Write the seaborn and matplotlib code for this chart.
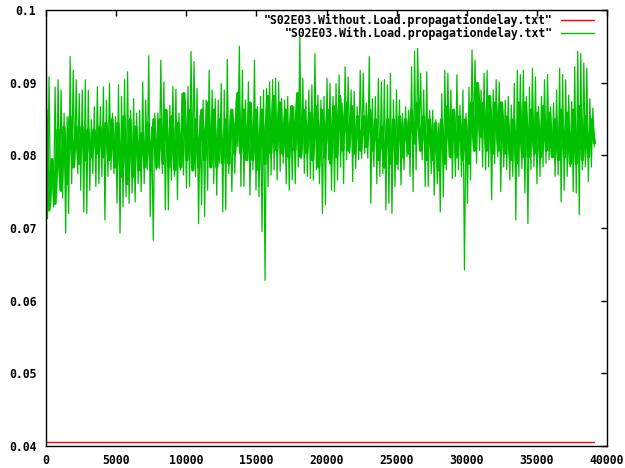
import numpy as np
import pandas as pd
import matplotlib
matplotlib.use("Agg")
import matplotlib.pyplot as plt
import seaborn as sns

# ---- data ----
# upper / lower extremes of the "With Load" trace, one pair per ~3 px column
with_load_high = [
    0.0993,0.0908,0.0794,0.0894,0.0904,0.0890,0.0858,0.0853,0.0936,0.0917,0.0904,0.0885,0.0890,0.0904,0.0890,0.0849,
    0.0867,0.0894,0.0867,0.0894,0.0876,0.0899,0.0858,0.0853,0.0897,0.0881,0.0904,0.0915,0.0862,0.0878,0.0858,
    0.0862,0.0901,0.0876,0.0937,0.0839,0.0858,0.0858,0.0931,0.0901,0.0862,0.0869,0.0895,0.0891,0.0858,0.0885,0.0867,
    0.0895,0.0943,0.0929,0.0892,0.0855,0.0876,0.0876,0.0917,0.0890,0.0878,0.0876,0.0899,0.0890,0.0932,0.0855,0.0849,
    0.0876,0.0950,0.0917,0.0876,0.0901,0.0872,0.0931,0.0867,0.0881,0.0890,0.0892,0.0901,0.0904,0.0906,0.0901,0.0878,
    0.0876,0.0881,0.0867,0.0867,0.0878,0.0963,0.0906,0.0876,0.0890,0.0897,0.0940,0.0883,0.0876,0.0881,0.0906,
    0.0899,0.0881,0.0899,0.0911,0.0872,0.0922,0.0908,0.0890,0.0888,0.0867,0.0917,0.0913,0.0872,0.0936,0.0878,0.0881,
    0.0906,0.0901,0.0904,0.0897,0.0913,0.0876,0.0890,0.0876,0.0858,0.0867,0.0862,0.0922,0.0943,0.0947,0.0913,
    0.0890,0.0915,0.0862,0.0862,0.0849,0.0844,0.0885,0.0917,0.0913,0.0890,0.0858,0.0911,0.0869,0.0890,0.0858,0.0894,
    0.0945,0.0931,0.0885,0.0890,0.0913,0.0917,0.0872,0.0890,0.0904,0.0901,0.0867,0.0876,0.0881,0.0869,0.0899,
    0.0917,0.0911,0.0917,0.0881,0.0894,0.0920,0.0908,0.0867,0.0881,0.0904,0.0911,0.0867,0.0872,0.0890,0.0920,0.0911,
    0.0904,0.0883,0.0874,0.0922,0.0943,0.0940,0.0927,0.0920,0.0878,0.0865,
]
with_load_low = [
    0.0713,0.0729,0.0729,0.0743,0.0761,0.0741,0.0693,0.0720,0.0761,0.0784,0.0775,0.0752,0.0722,0.0720,0.0752,0.0775,
    0.0757,0.0761,0.0771,0.0711,0.0771,0.0780,0.0775,0.0734,0.0693,0.0729,0.0743,0.0734,0.0748,0.0736,0.0761,
    0.0750,0.0761,0.0780,0.0716,0.0683,0.0780,0.0782,0.0775,0.0725,0.0725,0.0766,0.0771,0.0739,0.0780,0.0773,0.0755,
    0.0757,0.0789,0.0771,0.0706,0.0732,0.0716,0.0752,0.0784,0.0761,0.0745,0.0789,0.0722,0.0725,0.0775,0.0750,0.0775,
    0.0812,0.0757,0.0757,0.0794,0.0745,0.0780,0.0752,0.0743,0.0695,0.0628,0.0757,0.0773,0.0780,0.0766,0.0778,0.0789,
    0.0761,0.0752,0.0766,0.0761,0.0784,0.0796,0.0775,0.0771,0.0768,0.0766,0.0780,0.0761,0.0720,0.0732,0.0794,
    0.0752,0.0750,0.0766,0.0784,0.0761,0.0794,0.0803,0.0764,0.0782,0.0794,0.0796,0.0803,0.0796,0.0734,0.0784,0.0761,
    0.0771,0.0775,0.0725,0.0734,0.0720,0.0757,0.0780,0.0759,0.0780,0.0798,0.0771,0.0750,0.0780,0.0830,0.0794,
    0.0757,0.0757,0.0775,0.0745,0.0761,0.0722,0.0743,0.0780,0.0798,0.0768,0.0771,0.0780,0.0771,0.0642,0.0734,0.0766,
    0.0826,0.0789,0.0807,0.0784,0.0780,0.0784,0.0739,0.0789,0.0798,0.0750,0.0784,0.0780,0.0766,0.0771,0.0711,
    0.0771,0.0782,0.0748,0.0706,0.0780,0.0784,0.0761,0.0771,0.0784,0.0789,0.0794,0.0798,0.0771,0.0773,0.0736,0.0752,
    0.0771,0.0784,0.0750,0.0748,0.0718,0.0780,0.0784,0.0764,0.0784,0.0812,
]
# dense core of the "With Load" trace, one pair per ~6 px column
with_load_core_high = [
    0.0862,0.0794,0.0835,0.0839,0.0853,0.0839,0.0839,0.0835,0.0835,0.0839,0.0844,0.0849,0.0844,0.0853,0.0849,
    0.0839,0.0830,0.0844,0.0849,0.0849,0.0862,0.0853,0.0844,0.0885,0.0862,0.0849,0.0862,0.0872,0.0862,0.0849,0.0849,
    0.0862,0.0885,0.0862,0.0872,0.0862,0.0862,0.0881,0.0881,0.0872,0.0862,0.0867,0.0885,0.0862,0.0858,0.0867,0.0862,
    0.0862,0.0867,0.0881,0.0872,0.0867,0.0853,0.0853,0.0862,0.0849,0.0839,0.0849,0.0849,0.0853,0.0849,0.0862,0.0872,
    0.0853,0.0849,0.0844,0.0849,0.0867,0.0862,0.0853,0.0849,0.0872,0.0899,0.0872,0.0881,0.0872,0.0872,0.0853,0.0849,
    0.0872,0.0872,0.0862,0.0858,0.0867,0.0858,0.0849,0.0862,0.0858,0.0862,0.0867,0.0853,0.0849,
]
with_load_core_low = [
    0.0725,0.0734,0.0752,0.0761,0.0784,0.0789,0.0794,0.0798,0.0803,0.0798,0.0794,0.0784,0.0771,0.0761,0.0771,
    0.0780,0.0784,0.0780,0.0784,0.0789,0.0784,0.0780,0.0784,0.0794,0.0780,0.0784,0.0794,0.0784,0.0784,0.0789,0.0789,
    0.0803,0.0803,0.0794,0.0794,0.0780,0.0789,0.0803,0.0807,0.0803,0.0798,0.0807,0.0798,0.0803,0.0794,0.0784,0.0798,
    0.0789,0.0798,0.0807,0.0807,0.0803,0.0807,0.0812,0.0807,0.0794,0.0784,0.0789,0.0789,0.0798,0.0803,0.0817,0.0807,
    0.0794,0.0794,0.0780,0.0789,0.0798,0.0798,0.0794,0.0789,0.0807,0.0826,0.0807,0.0803,0.0807,0.0803,0.0794,0.0789,
    0.0798,0.0798,0.0803,0.0798,0.0807,0.0798,0.0794,0.0798,0.0789,0.0789,0.0794,0.0798,0.0817,
]
without_load = [0.0406, 0.0406]
last_sample = 39100

label_without = '"S02E03.Without.Load.propagationdelay.txt"'
label_with = '"S02E03.With.Load.propagationdelay.txt"'
x_ticks = [0, 5000, 10000, 15000, 20000, 25000, 30000, 35000, 40000]
y_ticks = [0.04, 0.05, 0.06, 0.07, 0.08, 0.09, 0.1]
y_tick_labels = ["0.04", "0.05", "0.06", "0.07", "0.08", "0.09", "0.1"]


def zigzag(high, low):
    vals = np.empty(2 * len(high))
    vals[0::2] = high
    vals[1::2] = low
    return pd.DataFrame({"x": np.linspace(0, last_sample, len(vals)), "y": vals})


df_with = zigzag(with_load_high, with_load_low)
df_core = zigzag(with_load_core_high, with_load_core_low)
df_without = pd.DataFrame({"x": np.linspace(0, last_sample, len(without_load)), "y": without_load})

sns.set_theme(style="white")
plt.rcParams["font.family"] = ["DejaVu Sans Mono", "DejaVu Sans"]
plt.rcParams["font.weight"] = "bold"

fig = plt.figure(figsize=(6.25, 4.68), dpi=100)
ax = fig.add_axes([46 / 625, 1 - 446 / 468, (607 - 46) / 625, (446 - 10) / 468])

green = "#00c000"
sns.lineplot(data=df_without, x="x", y="y", ax=ax, color="#ff0000", linewidth=1.0,
             label=label_without, estimator=None)
sns.lineplot(data=df_with, x="x", y="y", ax=ax, color=green, linewidth=0.9,
             label=label_with, estimator=None)
sns.lineplot(data=df_core, x="x", y="y", ax=ax, color=green, linewidth=2.4,
             estimator=None, legend=False)

ax.set_xlim(0, 40000)
ax.set_ylim(0.04, 0.1)
ax.set_xticks(x_ticks)
ax.set_xticklabels([str(t) for t in x_ticks])
ax.set_yticks(y_ticks)
ax.set_yticklabels(y_tick_labels)
ax.set_xlabel("")
ax.set_ylabel("")
for s in ax.spines.values():
    s.set_visible(True)
    s.set_color("black")
    s.set_linewidth(1.0)
ax.tick_params(axis="both", which="both", direction="in", length=4, width=1,
               top=True, right=True, colors="black", labelsize=8.3, labelcolor="black")
ax.tick_params(axis="x", pad=6)
ax.tick_params(axis="y", pad=7)
for lbl in ax.get_xticklabels() + ax.get_yticklabels():
    lbl.set_fontweight("bold")

leg = ax.legend(loc="upper right", frameon=False, markerfirst=False, fontsize=8.3,
                handlelength=2.9, handletextpad=0.7, labelspacing=0.05,
                borderpad=0.2, borderaxespad=0.0, bbox_to_anchor=(0.981, 0.997))
for t in leg.get_texts():
    t.set_fontweight("bold")
    t.set_color("black")
for h in leg.get_lines():
    h.set_linewidth(1.0)

fig.savefig("out.png", dpi=100, facecolor="white")
